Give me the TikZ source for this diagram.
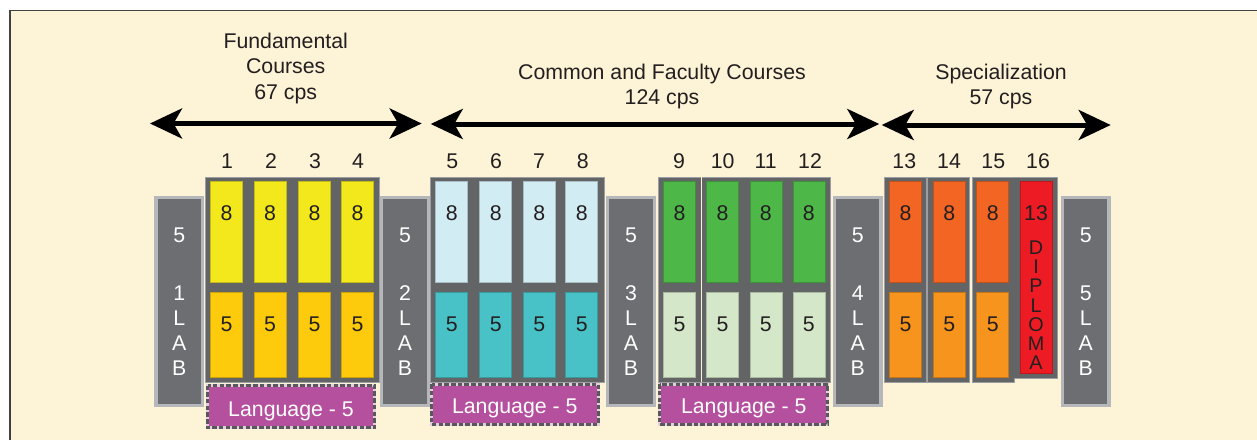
\documentclass[tikz,border=0pt]{standalone}
\usepackage{fontspec}
\setmainfont{Liberation Sans}
\usetikzlibrary{arrows.meta}
\definecolor{bg}{HTML}{FDF3D6}
\definecolor{frameline}{HTML}{414042}
\definecolor{colframe}{HTML}{636466}
\definecolor{labdark}{HTML}{6D6E71}
\definecolor{labedge}{HTML}{B5B7BA}
\definecolor{ink}{HTML}{231F20}
\definecolor{yelA}{HTML}{F2E81C}
\definecolor{yelB}{HTML}{FDCB0B}
\definecolor{bluA}{HTML}{D2ECF3}
\definecolor{bluB}{HTML}{48C2C7}
\definecolor{grnA}{HTML}{4DB748}
\definecolor{grnB}{HTML}{D4E8C9}
\definecolor{orgA}{HTML}{F26522}
\definecolor{orgB}{HTML}{F7941D}
\definecolor{dipl}{HTML}{ED1C24}
\definecolor{lang}{HTML}{B5509E}
\definecolor{dashc}{HTML}{58595B}
\begin{document}
\begin{tikzpicture}[x=1pt,y=-1pt,
  txt/.style={font=\fontsize{21.3}{25.3}\selectfont, text=ink, inner sep=0pt},
  wtxt/.style={txt, text=white},
  dtxt/.style={txt, font=\fontsize{19.8}{20}\selectfont},
  span/.style={line width=5pt, {Stealth[length=32pt,width=30pt,inset=8.5pt]}-{Stealth[length=32pt,width=30pt,inset=8.5pt]}},
  colbox/.style={fill=colframe, draw=labedge!70!colframe, line width=0.6pt},
  cell/.style={fill=#1, draw=#1!80!black, line width=0.5pt, minimum width=32pt, inner sep=0pt, outer sep=0pt},
  topcell/.style={cell=#1, minimum height=100.8pt},
  lowcell/.style={cell=#1, minimum height=84.5pt},
  labbox/.style={fill=labdark, draw=labedge, line width=3.4pt, minimum width=46.5pt, minimum height=207.8pt, inner sep=0pt},
  langbox/.style={fill=lang, draw=white!70!lang, line width=3pt, inner sep=0pt},
  langdash/.style={draw=dashc, line width=3pt, dash pattern=on 4.5pt off 2.2pt},
]
% page and panel
\useasboundingbox (0,0) rectangle (1257,440);
\fill[white] (0,0) rectangle (1257,440);
\fill[bg] (10,10.7) rectangle (1257,440);
\draw[frameline, line width=1.4pt] (10,440) -- (10,10.7) -- (1257,10.7);

% headings (anchored at the baseline of their last line)
\node[txt, align=center, anchor=base] (hfund) at (285.7,99.2) {Fundamental\\Courses\\67 cps};
\node[txt, align=center, anchor=base] (hcomm) at (662,104.8) {Common and Faculty Courses\\124 cps};
\node[txt, align=center, anchor=base] (hspec) at (1001,104.8) {Specialization\\57 cps};

% span arrows
\coordinate (s1l) at (150,123.5);
\coordinate (s1r) at (421.7,123.5);
\coordinate (s2l) at (430.7,124);
\coordinate (s2r) at (879.3,124);
\coordinate (s3l) at (881.7,125);
\coordinate (s3r) at (1110.7,125);
\draw[span] (s1l) -- (s1r);
\draw[span] (s2l) -- (s2r);
\draw[span] (s3l) -- (s3r);

% semester frames
\draw[colbox] (205,177) rectangle (379,382);
\draw[colbox] (430,177) rectangle (604,382);
\draw[colbox] (658,177) rectangle (830,382);
\draw[bg, line width=1.2pt] (701.7,177) -- (701.7,382);
\draw[colbox] (884.3,177) rectangle (926,382);
\draw[colbox] (927.7,177) rectangle (969.3,382);
\draw[colbox] (1014,177) rectangle (1057.3,378.3);
\draw[colbox] (972.3,177) rectangle (1014.3,382);
\fill[colframe] (1012,178) rectangle (1016,377.5);

% semester cells: x centre / number / top colour / lower colour
\foreach \x/\n/\ca/\cb in {226.5/1/yelA/yelB, 270/2/yelA/yelB, 314.5/3/yelA/yelB, 357.5/4/yelA/yelB,
  451.7/5/bluA/bluB, 495.7/6/bluA/bluB, 539.2/7/bluA/bluB, 581.7/8/bluA/bluB,
  679.5/9/grnA/grnB, 722.5/10/grnA/grnB, 765.8/11/grnA/grnB, 808.8/12/grnA/grnB,
  905.5/13/orgA/orgB, 949.2/14/orgA/orgB, 992.7/15/orgA/orgB}{
  \node[topcell=\ca] (t\n) at (\x,231.9) {};
  \node[lowcell=\cb] (b\n) at (\x,334.75) {};
  \node[txt] (tv\n) at (\x,213.3) {8};
  \node[txt] (bv\n) at (\x,324.3) {5};
}
% semester numbers
\foreach \x/\n in {227/1, 271/2, 315/3, 358/4, 452.3/5, 496/6, 539/7, 582.7/8,
  679/9, 722.7/10, 765.7/11, 810/12, 904.3/13, 949/14, 993.3/15, 1038/16}{
  \node[txt] (n\n) at (\x,161) {\n};
}

% diploma semester
\node[cell=dipl, minimum height=191.6pt] (t16) at (1036,277.5) {};
\node[txt] (tv16) at (1036,213.3) {13};
\foreach \l/\y [count=\i] in {D/247.3, I/266.6, P/285.9, L/305.2, O/324.4, M/343.7, A/363}{
  \node[dtxt] (dl\i) at (1036,\y) {\l};
}

% labs
\foreach \x/\k in {179.3/1, 405/2, 631/3, 857.7/4, 1085.7/5}{
  \node[labbox] (lab\k) at (\x,301.65) {};
  \node[wtxt] (lab\k a) at (\x,235.3) {5};
  \node[wtxt] (lab\k b) at (\x,292.8) {\k};
  \node[wtxt] (lab\k c) at (\x,318.3) {L};
  \node[wtxt] (lab\k d) at (\x,343.3) {A};
  \node[wtxt] (lab\k e) at (\x,368.6) {B};
}

% language blocks
\foreach \xa/\xb/\ya/\yb/\k in {206/376/384/429.3/1, 430/599.5/382.7/425.5/2, 658.3/829.3/382.7/425.5/3}{
  \draw[langbox] (\xa+1.5,\ya+1.5) rectangle (\xb-1.5,\yb-1.5);
  \draw[langdash] (\xa+1.5,\ya+1.5) rectangle (\xb-1.5,\yb-1.5);
}
\node[wtxt, anchor=base] (lang1) at (291,416) {Language - 5};
\node[wtxt, anchor=base] (lang2) at (514.8,413.3) {Language - 5};
\node[wtxt, anchor=base] (lang3) at (743.8,413.3) {Language - 5};
\end{tikzpicture}
\end{document}
